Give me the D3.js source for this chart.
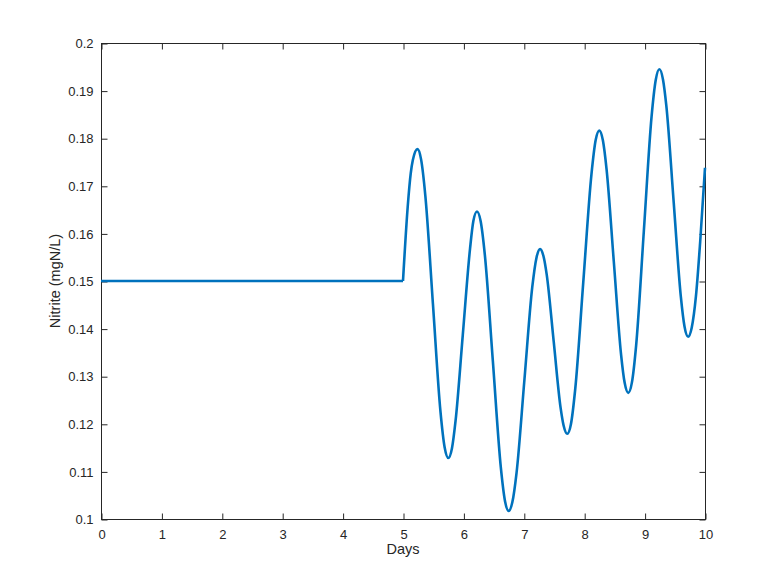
<!DOCTYPE html>
<html>
<head>
<meta charset="utf-8">
<script src="https://cdn.jsdelivr.net/npm/d3@7"></script>
<style>
  body { margin: 0; background: #fff; }
  svg { display: block; font-family: "Liberation Sans", Arial, Helvetica, sans-serif; }
</style>
</head>
<body>
<script>
// values
var days = [0, 5.0, 5.078, 5.128, 5.163, 5.24, 5.30, 5.37, 5.495, 5.62, 5.69, 5.75,
    5.81, 5.87, 5.99, 6.11, 6.165, 6.225, 6.285, 6.355, 6.4875, 6.62, 6.69, 6.75,
    6.81, 6.88, 7.01, 7.14, 7.21, 7.27, 7.33, 7.38, 7.495, 7.61, 7.66, 7.72,
    7.78, 7.85, 7.985, 8.12, 8.19, 8.25, 8.31, 8.37, 8.49, 8.61, 8.67, 8.73,
    8.79, 8.86, 8.9875, 9.115, 9.185, 9.245, 9.305, 9.36, 9.4825, 9.60, 9.66, 9.72,
    9.78, 9.85, 9.92, 10];
var nitrite = [0.15, 0.15, 0.1656, 0.1726, 0.1754, 0.1777, 0.1755, 0.1679, 0.1453, 0.1226, 0.1150, 0.1128,
    0.1148, 0.1206, 0.1387, 0.1568, 0.1626, 0.1646, 0.1626, 0.1555, 0.1332, 0.1108, 0.1037, 0.1017,
    0.1035, 0.1097, 0.1292, 0.1487, 0.1549, 0.1567, 0.1550, 0.1513, 0.1373, 0.1233, 0.1196, 0.1179,
    0.1199, 0.1271, 0.1498, 0.1724, 0.1796, 0.1816, 0.1795, 0.1735, 0.1541, 0.1346, 0.1286, 0.1265,
    0.1287, 0.1365, 0.1605, 0.1845, 0.1923, 0.1945, 0.1923, 0.1868, 0.1664, 0.1467, 0.1405, 0.1383,
    0.1402, 0.1468, 0.1582, 0.1738];
var xTicks = [0, 1, 2, 3, 4, 5, 6, 7, 8, 9, 10];
var yTicks = [0.1, 0.11, 0.12, 0.13, 0.14, 0.15, 0.16, 0.17, 0.18, 0.19, 0.2];

var width = 778, height = 584;
var margin = {top: 43, right: 73, bottom: 65, left: 101};
var axisColor = "#262626";

var svg = d3.select("body").append("svg")
    .attr("width", width)
    .attr("height", height);

var x = d3.scaleLinear().domain([0, 10]).range([margin.left, width - margin.right]);
var y = d3.scaleLinear().domain([0.1, 0.2]).range([height - margin.bottom, margin.top]);

var data = days.map(function (d, i) { return {t: d, v: nitrite[i]}; });

// box
svg.append("rect")
    .attr("x", x(0) + 0.5)
    .attr("y", y(0.2) + 0.5)
    .attr("width", x(10) - x(0))
    .attr("height", y(0.1) - y(0.2))
    .attr("fill", "none")
    .attr("stroke", axisColor)
    .attr("stroke-width", 1);

// ticks, inward, on all four sides
var tk = 6;
var xAxisB = d3.axisBottom(x).tickValues(xTicks).tickSize(-tk).tickPadding(10).tickFormat(d3.format("d"));
var xAxisT = d3.axisTop(x).tickValues(xTicks).tickSize(-tk).tickFormat("");
var yAxisL = d3.axisLeft(y).tickValues(yTicks).tickSize(-tk).tickPadding(8).tickFormat(function (d) { return +d.toFixed(2) + ""; });
var yAxisR = d3.axisRight(y).tickValues(yTicks).tickSize(-tk).tickFormat("");

function styleAxis(g) {
    g.select(".domain").remove();
    g.selectAll(".tick line").attr("stroke", axisColor);
    g.selectAll(".tick text").attr("fill", axisColor).attr("font-size", 13)
        .attr("font-family", "'Liberation Sans', Arial, Helvetica, sans-serif");
}

svg.append("g").attr("transform", "translate(0.5," + (y(0.1) + 0.5) + ")").call(xAxisB).call(styleAxis);
svg.append("g").attr("transform", "translate(0.5," + (y(0.2) + 0.5) + ")").call(xAxisT).call(styleAxis);
svg.append("g").attr("transform", "translate(" + (x(0) + 0.5) + ",0.5)").call(yAxisL).call(styleAxis);
svg.append("g").attr("transform", "translate(" + (x(10) + 0.5) + ",0.5)").call(yAxisR).call(styleAxis);

// curve: flat part straight, oscillation smooth
var flatLine = d3.line().x(function (d) { return x(d.t); }).y(function (d) { return y(d.v); });
var waveLine = d3.line().x(function (d) { return x(d.t); }).y(function (d) { return y(d.v); })
    .curve(d3.curveMonotoneX);

svg.append("path")
    .datum(data.filter(function (d) { return d.t <= 5; }))
    .attr("d", flatLine)
    .attr("fill", "none")
    .attr("stroke", "#0072BD")
    .attr("stroke-width", 2.6);

svg.append("path")
    .datum(data.filter(function (d) { return d.t >= 5; }))
    .attr("d", waveLine)
    .attr("fill", "none")
    .attr("stroke", "#0072BD")
    .attr("stroke-width", 2.6)
    .attr("stroke-linejoin", "round");

// labels
svg.append("text")
    .attr("x", (x(0) + x(10)) / 2)
    .attr("y", 554)
    .attr("text-anchor", "middle")
    .attr("font-size", 14.5)
    .attr("fill", axisColor)
    .text("Days");

svg.append("text")
    .attr("transform", "translate(60," + ((y(0.1) + y(0.2)) / 2) + ") rotate(-90)")
    .attr("text-anchor", "middle")
    .attr("font-size", 14.5)
    .attr("fill", axisColor)
    .text("Nitrite (mgN/L)");
</script>
</body>
</html>
